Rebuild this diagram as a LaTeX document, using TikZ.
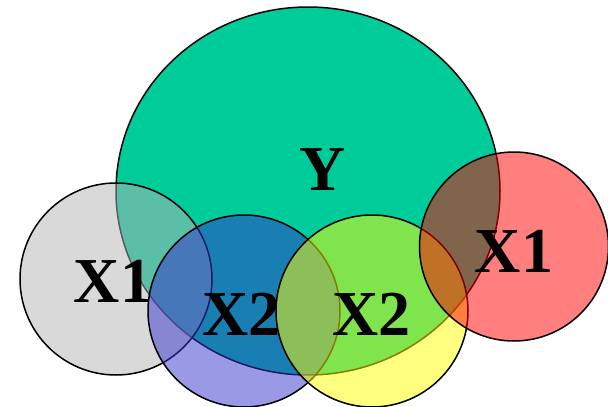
\documentclass[tikz,border=0pt]{standalone}
\usepackage{fontspec}
\setmainfont{Liberation Serif}
\definecolor{ygreen}{HTML}{00CC99}
\definecolor{cgray}{RGB}{180,180,180}
\definecolor{cblue}{RGB}{51,51,204}
\definecolor{cyellow}{RGB}{255,255,0}
\definecolor{cred}{RGB}{255,0,0}
\tikzset{
  setline/.style={draw=black, line width=1.5pt},
  halffill/.style={setline, fill opacity=0.5},
  lbl/.style={anchor=base, inner sep=0pt, font=\bfseries\fontsize{64}{64}\selectfont}
}
\begin{document}
\begin{tikzpicture}[x=1pt,y=-1pt]
\useasboundingbox (0,0) rectangle (608,407);
\clip (0,0) rectangle (608,407);
% Y
\draw[setline, fill=ygreen] (308,191) ellipse [x radius=192, y radius=184];
\node[lbl] (y) at (323,190) {Y};
% left X1
\draw[halffill, fill=cgray] (116,279) circle [radius=96];
\node[lbl] (x1a) at (113,302) {X1};
% left X2
\draw[halffill, fill=cblue] (244,311) circle [radius=96];
\node[lbl] (x2a) at (241.5,335) {X2};
% right X2
\draw[halffill, fill=cyellow] (372,311) circle [radius=96];
\node[lbl] (x2b) at (371.5,335) {X2};
% right X1
\draw[halffill, fill=cred] (514,246.5) circle [radius=94.5];
\node[lbl] (x1b) at (514,272) {X1};
\end{tikzpicture}
\end{document}
